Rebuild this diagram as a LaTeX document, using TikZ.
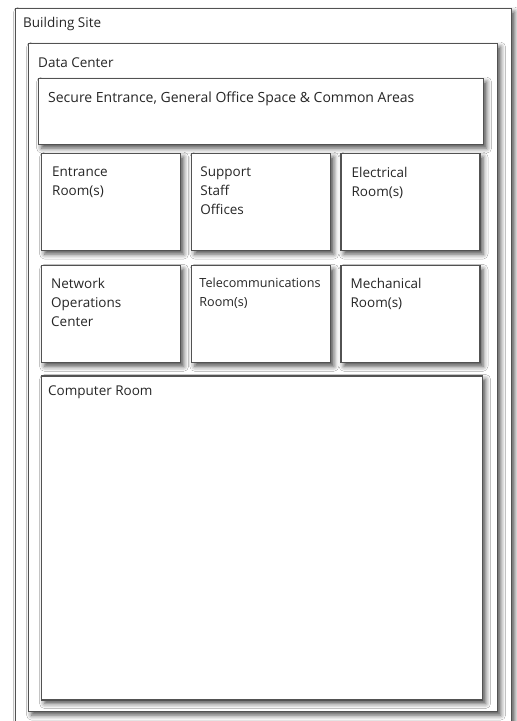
\documentclass[tikz,border=0pt]{standalone}
\usepackage{fontspec}
\setmainfont{Open Sans}
\usetikzlibrary{positioning,shadows.blur}

\tikzset{
  area/.style={draw=black!68, line width=1.2pt, fill=white, anchor=north west,
    inner sep=0pt, minimum width=139pt, minimum height=97pt,
    blur shadow={shadow xshift=3pt, shadow yshift=-3.5pt,
      shadow blur radius=5pt, shadow opacity=70}},
  caption/.style={anchor=north west, align=left, inner sep=0pt,
    text=black!85, font=\fontsize{13.5}{19}\selectfont},
}

\begin{document}
\begin{tikzpicture}[x=1pt,y=-1pt]
  \useasboundingbox[fill=white] (0,0) rectangle (517,721);

  % outer frames
  \node[area, minimum width=496pt, minimum height=740pt] (site) at (15,8) {};
  \node[area, minimum width=469pt, minimum height=668pt] (dc) at (28,43) {};
  \node[area, minimum width=445pt, minimum height=66pt] (secure) at (38,78) {};

  % rooms
  \node[area] (entrance) at (41,153) {};
  \node[area, right=10pt of entrance] (support) {};
  \node[area, right=9pt of support] (electrical) {};
  \node[area, below=14pt of entrance] (noc) {};
  \node[area, right=10pt of noc] (telecom) {};
  \node[area, right=9pt of telecom] (mechanical) {};
  \node[area, minimum width=441pt, minimum height=324pt,
    below=12pt of noc.south west, anchor=north west] (computer) {};

  % labels
  \node[caption] (site text) at ([shift={(8,9.5)}]site.north west) {Building Site};
  \node[caption] (dc text) at ([shift={(10,14.5)}]dc.north west) {Data Center};
  \node[caption, font=\fontsize{14}{19}\selectfont] (secure text) at ([shift={(10,13.5)}]secure.north west)
    {Secure Entrance, General Office Space \& Common Areas};
  \node[caption] (entrance text) at ([shift={(11,14)}]entrance.north west) {Entrance\\Room(s)};
  \node[caption] (support text) at ([shift={(9,14)}]support.north west) {Support\\Staff\\Offices};
  \node[caption] (electrical text) at ([shift={(11,14)}]electrical.north west) {Electrical\\Room(s)};
  \node[caption] (noc text) at ([shift={(10,13)}]noc.north west) {Network\\Operations\\Center};
  \node[caption, font=\fontsize{12.6}{19}\selectfont] (telecom text) at ([shift={(8,13)}]telecom.north west) {Telecommunications\\Room(s)};
  \node[caption] (mechanical text) at ([shift={(10,13)}]mechanical.north west) {Mechanical\\Room(s)};
  \node[caption] (computer text) at ([shift={(7,10)}]computer.north west) {Computer Room};
\end{tikzpicture}
\end{document}
